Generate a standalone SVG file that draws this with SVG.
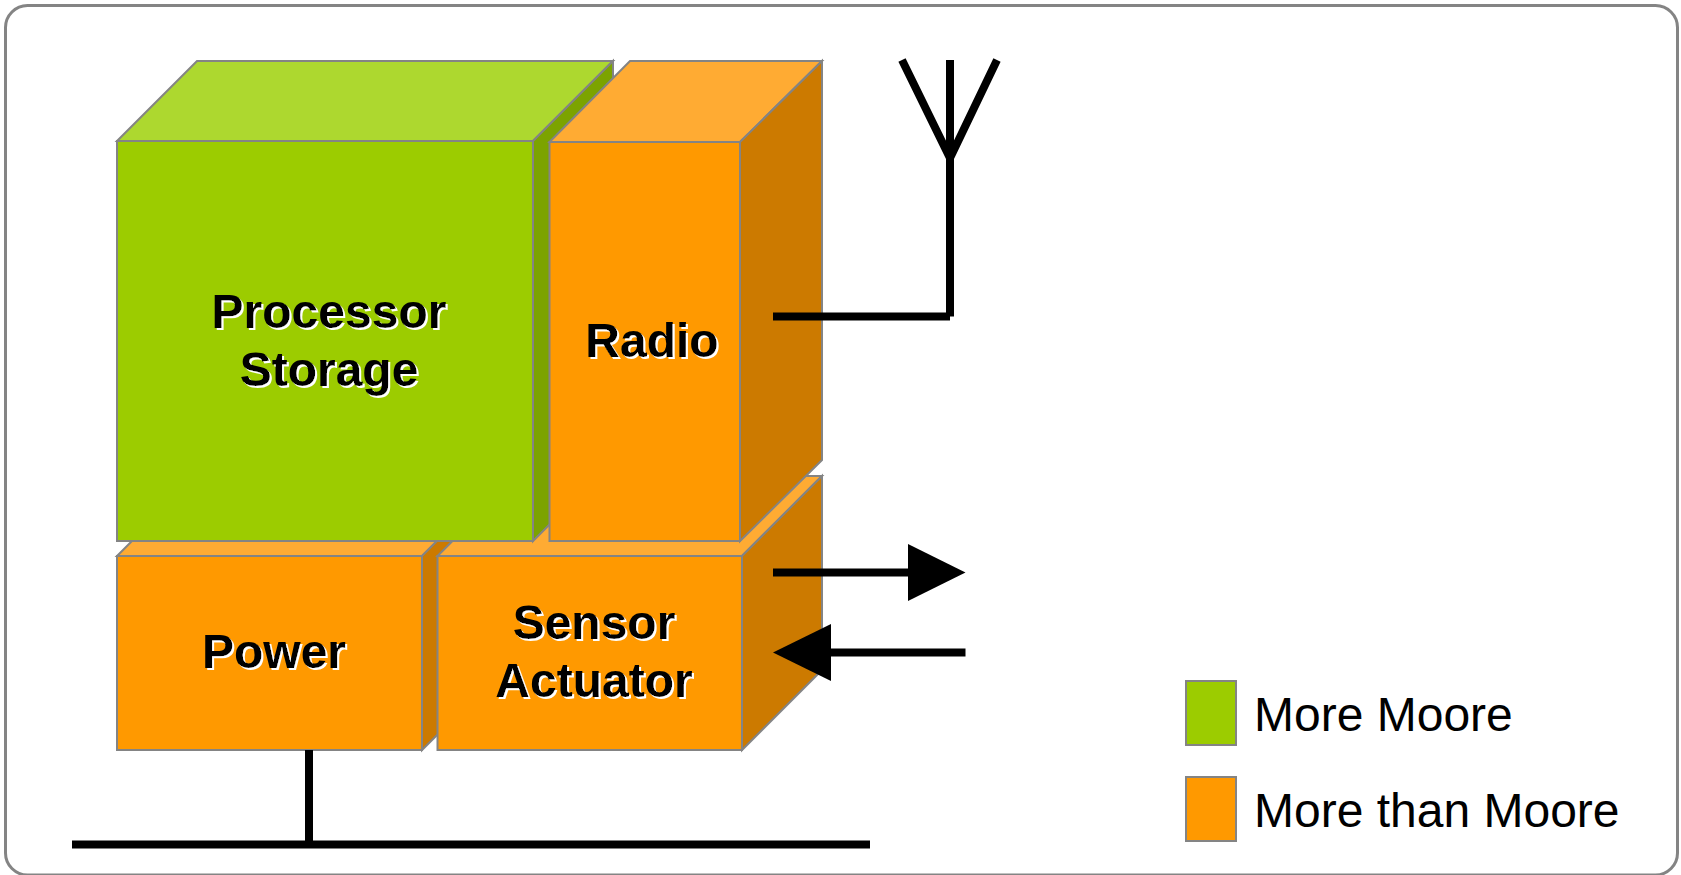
<svg xmlns="http://www.w3.org/2000/svg" width="1681" height="875" viewBox="0 0 1681 875">
<style>
.e{stroke:#848484;stroke-width:2;stroke-linejoin:miter}
.gf{fill:#9ccc00}.gt{fill:#add82f}.gs{fill:#7ca300}
.of{fill:#ff9900}.ot{fill:#ffab33}.os{fill:#cc7a00}
.l{font-family:"Liberation Sans",Arial,sans-serif;font-weight:700;font-size:48px;text-anchor:middle;fill:#000;filter:url(#ts)}
.k{font-family:"Liberation Sans",Arial,sans-serif;font-size:48px;fill:#000}
.w{stroke:#000;fill:none;stroke-width:8}
</style>
<defs>
<filter id="ts" x="-5%" y="-5%" width="110%" height="115%"><feDropShadow dx="2" dy="2" stdDeviation="0" flood-color="#fff" flood-opacity="1"/></filter>
</defs>
<rect id="frame" x="5.500" y="5.500" width="1672" height="869.500" rx="22" fill="#fff" stroke="#848484" stroke-width="3"/>
<g id="power">
<polygon class="e ot" points="117,556 197,476 502,476 422,556"/>
<polygon class="e os" points="422,556 502,476 502,670 422,750"/>
<rect class="e of" x="117" y="556" width="305" height="194"/>
<text class="l" x="274" y="668">Power</text>
</g>
<g id="sensor-actuator">
<polygon class="e ot" points="437.500,556 517.500,476 822,476 742,556"/>
<polygon class="e os" points="742,556 822,476 822,670 742,750"/>
<rect class="e of" x="437.500" y="556" width="304.500" height="194"/>
<text class="l" x="594" y="639">Sensor</text>
<text class="l" x="594" y="697">Actuator</text>
</g>
<g id="processor-storage">
<polygon class="e gt" points="117,141 197,61 613,61 533,141"/>
<polygon class="e gs" points="533,141 613,61 613,461 533,541"/>
<rect class="e gf" x="117" y="141" width="416" height="400"/>
<text class="l" x="329" y="328">Processor</text>
<text class="l" x="329" y="386">Storage</text>
</g>
<g id="radio">
<polygon class="e ot" points="549.500,142 630,61 822,61 740,142"/>
<polygon class="e os" points="740,142 822,61 822,460 740,541"/>
<rect class="e of" x="549.500" y="142" width="190.500" height="399"/>
<text class="l" x="652" y="357">Radio</text>
</g>
<g id="connectors">
<path class="w" d="M773,316.500H950"/>
<path class="w" d="M950,316.500V60"/>
<path class="w" d="M902,60L950,158L997,60"/>
<path class="w" d="M773,572.500H910"/>
<polygon points="908,544 965.500,572.500 908,601" fill="#000"/>
<path class="w" d="M965.500,652.500H829"/>
<polygon points="831,624 773,652.500 831,681" fill="#000"/>
<path class="w" d="M72,844.500H870"/>
<path class="w" d="M309,750V844"/>
</g>
<g id="legend-more-moore">
<rect class="e gf" x="1186" y="681" width="50" height="64"/>
<text class="k" x="1254" y="731">More Moore</text>
</g>
<g id="legend-more-than-moore">
<rect class="e of" x="1186" y="777" width="50" height="64"/>
<text class="k" x="1254" y="827">More than Moore</text>
</g>
</svg>
